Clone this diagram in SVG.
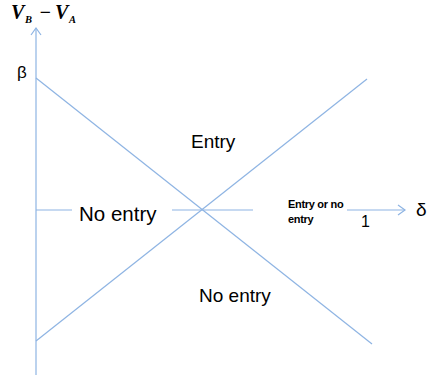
<svg xmlns="http://www.w3.org/2000/svg" width="430" height="381" viewBox="0 0 430 381">
<style>
.ax{stroke:#8EB4E3;stroke-width:1.2;fill:none}
.t{font-family:"Liberation Sans",Arial,sans-serif;fill:#000}
.lbl{font-size:19px}
.sm{font-size:11px;font-weight:bold;letter-spacing:-0.3px}
.m{font-family:"Liberation Serif","Times New Roman",serif;font-style:italic;font-weight:bold;fill:#000}
</style>
<rect width="430" height="381" fill="#fff"/>
<g id="connectors">
<line class="ax" x1="36" y1="375" x2="36" y2="28"/>
<polyline class="ax" points="31,35 36,28 41,35"/>
<line class="ax" x1="36" y1="78" x2="372" y2="344"/>
<line class="ax" x1="36" y1="341" x2="367" y2="79"/>
<line class="ax" x1="36" y1="210" x2="72" y2="210"/>
<line class="ax" x1="172" y1="210" x2="253" y2="210"/>
<line class="ax" x1="347" y1="210" x2="405" y2="210"/>
<polyline class="ax" points="398,205 405,210 398,215"/>
</g>
<g id="ylabel">
<text class="m" x="11" y="19" font-size="20">V</text>
<text class="m" x="25" y="23" font-size="10.5">B</text>
<text class="m" x="39" y="19" font-size="20">−</text>
<text class="m" x="55" y="19" font-size="20">V</text>
<text class="m" x="69" y="23" font-size="10.5">A</text>
</g>
<g id="beta"><text class="t" x="17" y="78" font-size="17">β</text></g>
<g id="delta"><text class="t" x="416" y="216" font-size="19">δ</text></g>
<g id="entry"><text class="t lbl" x="191" y="148">Entry</text></g>
<g id="noentry-left"><text class="t" x="79" y="221" font-size="20.5">No entry</text></g>
<g id="noentry-bottom"><text class="t lbl" x="199" y="302">No entry</text></g>
<g id="entry-or-no"><text class="t sm" x="288" y="208">Entry or no</text><text class="t sm" x="288" y="223">entry</text></g>
<g id="one"><text class="t" x="361" y="227" font-size="16">1</text></g>
</svg>
